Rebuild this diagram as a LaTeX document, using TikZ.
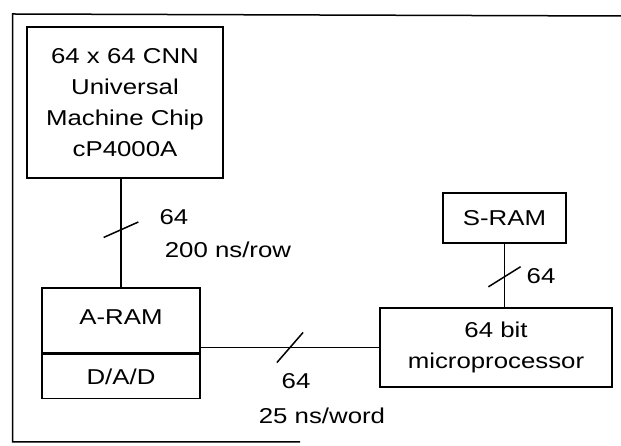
\documentclass[tikz,border=0pt]{standalone}
\usepackage{fontspec}
\setmainfont{Liberation Sans}[FakeStretch=1.2]
\usetikzlibrary{positioning}
\tikzset{
  unit/.style={draw, inner sep=0pt, align=center, font=\fontsize{21.5}{31}\selectfont},
  lbl/.style={inner sep=0pt, font=\fontsize{21.5}{26}\selectfont},
}
\begin{document}
\begin{tikzpicture}[x=1pt, y=1pt, line width=1.5pt]
\useasboundingbox (0,0) rectangle (621,446);
% frame
\draw (621,430) -- (12.5,432) -- (12.5,4) -- (300,4);

\node[unit, minimum width=196pt, minimum height=151pt] (cnn) at (125,343.5) {64 x 64 CNN\\Universal\\Machine Chip\\cP4000A};
\node[unit, minimum width=158pt, minimum height=65pt] (aram) at (121,125.5) {\raisebox{7pt}{A-RAM}};
\node[unit, minimum width=158pt, minimum height=44pt, below=0pt of aram] (dad) {D/A/D};
\node[unit, minimum width=232pt, minimum height=79pt] (micro) at (496,98.5) {64 bit\\microprocessor};
\node[unit, minimum width=123pt, minimum height=50pt] (sram) at (504.5,228) {S-RAM};

\draw (cnn.south -| aram.north) -- coordinate[pos=0.47] (b1) (aram.north);
\draw (micro.west -| aram.east) -- coordinate[midway] (b2) (micro.west);
\draw (sram.south) -- coordinate[pos=0.52] (b3) (sram.south |- micro.north);

% bus widths
\draw (b1) ++(204:19) -- ++(24:38);
\draw (b2) ++(229:20) -- ++(49:40);
\draw (b3) ++(212:19) -- ++(32:38);

\node[lbl] (w1) at (174,229) {64};
\node[lbl] (t1) at (228,196) {200 ns/row};
\node[lbl] (w2) at (296,65) {64};
\node[lbl] (t2) at (322,30) {25 ns/word};
\node[lbl] (w3) at (541,170) {64};
\end{tikzpicture}
\end{document}
